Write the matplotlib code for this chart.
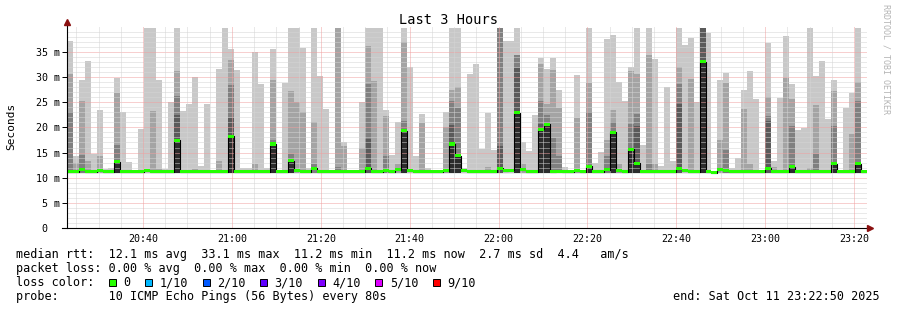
import matplotlib
matplotlib.use('Agg')
import matplotlib.pyplot as plt
import numpy as np
from matplotlib.patches import Rectangle

# median rtt per 80 s step (ms)
median = [11.2, 11.2, 11.6, 11.2, 11.2, 11.5, 11.2, 11.2, 13.2, 11.2,
          11.2, 11.2, 11.2, 11.4, 11.2, 11.2, 11.2, 11.2, 17.4, 11.2,
          11.2, 11.2, 11.2, 11.2, 11.2, 11.2, 11.2, 18.2, 11.2, 11.2,
          11.2, 11.2, 11.2, 11.2, 16.7, 11.2, 11.2, 13.4, 11.5, 11.2,
          11.2, 11.9, 11.2, 11.2, 11.2, 11.2, 11.2, 11.2, 11.2, 11.2,
          11.9, 11.2, 11.2, 11.5, 11.2, 11.6, 19.3, 11.4, 11.2, 11.2,
          11.2, 11.2, 11.2, 11.4, 16.7, 14.4, 11.5, 11.2, 11.2, 11.2,
          11.2, 11.2, 11.9, 11.4, 11.5, 22.9, 11.6, 11.2, 11.2, 19.6,
          20.6, 11.2, 11.3, 11.2, 11.2, 11.4, 11.2, 12.3, 11.2, 11.2,
          11.6, 19.0, 11.4, 11.2, 15.7, 12.9, 11.2, 11.2, 11.2, 11.2,
          11.2, 11.2, 11.8, 11.4, 11.2, 11.2, 33.1, 11.2, 11.0, 11.6,
          11.4, 11.2, 11.2, 11.2, 11.2, 11.2, 11.2, 11.9, 11.2, 11.2,
          11.2, 12.2, 11.2, 11.2, 11.2, 11.2, 11.2, 11.2, 12.8, 11.2,
          11.2, 11.2, 12.8, 11.2]

# smoke band tops, lightest (outer pings) to darkest (inner pings); 0 = none
smoke1 = [37.2, 14.4, 29.5, 33.2, 14.8, 23.4, 11.7, 11.9, 29.9, 23.0,
          13.1, 0, 19.6, 39.8, 39.8, 29.4, 11.7, 25.0, 39.8, 23.2,
          24.6, 30.0, 12.4, 24.6, 11.5, 31.6, 39.8, 35.5, 31.4, 11.9,
          11.9, 35.0, 28.6, 11.9, 35.5, 0, 28.9, 39.8, 39.8, 35.7,
          11.9, 39.8, 30.2, 23.6, 11.5, 39.8, 17.0, 0, 0, 25.1,
          39.8, 39.8, 39.8, 23.4, 14.6, 21.0, 39.8, 32.0, 14.4, 22.6,
          11.9, 0, 11.5, 23.0, 39.8, 39.8, 11.9, 30.6, 32.6, 15.7,
          22.8, 15.5, 39.8, 37.2, 37.2, 39.8, 17.0, 15.3, 22.5, 33.7,
          31.6, 33.7, 27.4, 12.2, 0, 30.4, 0, 39.8, 12.9, 15.1,
          37.6, 38.3, 29.1, 25.3, 32.0, 39.8, 16.6, 39.8, 33.5, 12.4,
          28.0, 13.4, 39.8, 36.4, 37.8, 25.0, 39.8, 38.8, 0, 29.4,
          30.8, 11.9, 14.0, 27.4, 31.3, 25.6, 0, 36.8, 13.4, 25.8,
          38.1, 28.6, 19.4, 19.8, 39.8, 30.2, 33.2, 21.6, 29.4, 0,
          23.8, 26.9, 39.8, 0]
smoke2 = [30.6, 12.9, 25.3, 13.4, 0, 14.3, 0, 0, 26.9, 0,
          0, 0, 0, 0, 23.2, 11.7, 0, 0, 31.3, 0,
          0, 11.7, 0, 0, 0, 13.4, 0, 33.4, 0, 0,
          0, 12.8, 0, 0, 29.4, 0, 0, 27.3, 25.0, 23.0,
          0, 21.0, 0, 0, 0, 39.8, 16.4, 0, 0, 15.9,
          36.2, 29.3, 0, 22.3, 0, 12.7, 37.0, 0, 0, 20.8,
          0, 0, 0, 20.0, 27.4, 28.1, 0, 0, 0, 0,
          12.2, 0, 39.8, 0, 0, 34.4, 12.7, 0, 0, 32.6,
          24.7, 31.4, 23.9, 0, 0, 21.8, 0, 28.9, 0, 0,
          17.5, 23.4, 12.7, 0, 31.2, 30.6, 0, 34.4, 12.7, 0,
          0, 0, 32.0, 0, 29.6, 0, 39.8, 0, 0, 17.4,
          28.8, 0, 0, 23.6, 12.7, 0, 0, 26.1, 12.1, 0,
          29.9, 25.6, 0, 0, 11.9, 24.4, 0, 0, 27.3, 0,
          0, 18.6, 29.1, 0]
smoke3 = [23.0, 0, 14.6, 0, 0, 0, 0, 0, 16.6, 0,
          0, 0, 0, 0, 0, 0, 0, 0, 26.3, 0,
          0, 0, 0, 0, 0, 0, 0, 28.5, 0, 0,
          0, 0, 0, 0, 17.5, 0, 0, 14.7, 0, 0,
          0, 12.8, 0, 0, 0, 12.1, 0, 0, 0, 0,
          28.6, 0, 0, 14.4, 0, 0, 21.3, 0, 0, 0,
          0, 0, 0, 0, 25.3, 23.9, 0, 0, 0, 0,
          0, 0, 39.8, 0, 0, 34.4, 0, 0, 0, 25.3,
          22.5, 17.8, 14.4, 0, 0, 0, 0, 23.0, 0, 0,
          14.4, 21.0, 0, 0, 20.7, 22.7, 0, 12.8, 0, 0,
          0, 0, 28.6, 0, 0, 0, 39.8, 0, 0, 0,
          15.6, 0, 0, 0, 0, 0, 0, 22.3, 0, 0,
          0, 20.3, 0, 0, 0, 14.8, 0, 0, 20.3, 0,
          0, 0, 25.3, 0]
smoke4 = [0, 0, 0, 0, 0, 0, 0, 0, 0, 0,
          0, 0, 0, 0, 0, 0, 0, 0, 22.5, 0,
          0, 0, 0, 0, 0, 0, 0, 21.8, 0, 0,
          0, 0, 0, 0, 0, 0, 0, 0, 0, 0,
          0, 0, 0, 0, 0, 0, 0, 0, 0, 0,
          17.7, 0, 0, 0, 0, 0, 0, 0, 0, 0,
          0, 0, 0, 0, 20.5, 0, 0, 0, 0, 0,
          0, 0, 16.4, 0, 0, 31.9, 0, 0, 0, 20.7,
          0, 0, 0, 0, 0, 0, 0, 0, 0, 0,
          0, 0, 0, 0, 0, 20.3, 0, 0, 0, 0,
          0, 0, 24.6, 0, 0, 0, 39.8, 0, 0, 0,
          0, 0, 0, 0, 0, 0, 0, 21.2, 0, 0,
          0, 0, 0, 0, 0, 0, 0, 0, 13.0, 0,
          0, 0, 12.9, 0]

tick_pos = [40, 60, 80, 100, 120, 140, 160, 180, 200]   # minutes after 20:00
tick_lab = ['20:40', '21:00', '21:20', '21:40', '22:00', '22:20', '22:40', '23:00', '23:20']
ytick_pos = [0, 5, 10, 15, 20, 25, 30, 35]
ytick_lab = ['0  ', '5 m', '10 m', '15 m', '20 m', '25 m', '30 m', '35 m']

loss_labels = ['0', '1/10', '2/10', '3/10', '4/10', '5/10', '9/10']
loss_colors = ['#26ff00', '#00b8ff', '#0059ff', '#5e00ff', '#7e00ff', '#dd00ff', '#ff0000']

W, H = 897, 310
mono = 'DejaVu Sans Mono'
fig = plt.figure(figsize=(W / 100, H / 100), dpi=100)
ax = fig.add_axes([66.7 / W, 82 / H, 800 / W, 201.2 / H])

t0 = 22 + 50 / 60
t1 = t0 + 180
n = len(median)
step = (t1 - t0) / n
left = t0 + step * np.arange(n)
base = 11.0

shades = ['#c8c8c8', '#a4a4a4', '#808080', '#5a5a5a']
for band, col in zip([smoke1, smoke2, smoke3, smoke4], shades):
    top = np.array(band, dtype=float)
    h = np.where(top > base, top - base, 0)
    ax.bar(left, h, width=step, bottom=base, align='edge', color=col,
           linewidth=0, antialiased=False, zorder=1)

med = np.array(median)
inner = np.where(med > 12.0, med - base, 0)
ax.bar(left, inner, width=step, bottom=base, align='edge', color='#2c2c2c',
       linewidth=0, antialiased=False, zorder=2)

# grid
for v in range(1, 40):
    if v % 5:
        ax.axhline(v, color='#d4d4d4', lw=0.72, ls=(0, (1, 1)), zorder=3)
    else:
        ax.axhline(v, color='#f0a0a0', lw=0.72, ls=(0, (1, 1)), zorder=3)
for m in range(25, 205, 5):
    if m % 20:
        ax.axvline(m, color='#d4d4d4', lw=0.72, ls=(0, (1, 1)), zorder=3)
    else:
        ax.axvline(m, color='#f0a0a0', lw=0.72, ls=(0, (1, 1)), zorder=3)

# median line + loss-colour band
edges = np.append(left, t1)
ax.step(edges, np.append(med, med[-1]), where='post', color='black', lw=0.8, zorder=4)
ax.bar(left, 0.6, width=step, bottom=med - 0.3, align='edge', color=loss_colors[0],
       linewidth=0, antialiased=False, zorder=5)

ax.set_xlim(t0, t1)
ax.set_ylim(0, 40)
for s in ax.spines.values():
    s.set_visible(False)
ax.set_xticks(tick_pos)
ax.set_xticklabels(tick_lab, fontfamily=mono, fontsize=7.2)
ax.set_yticks(ytick_pos)
ax.set_yticklabels(ytick_lab, fontfamily=mono, fontsize=7.2)
ax.tick_params(axis='x', length=0, pad=4)
ax.tick_params(axis='y', length=3.5, width=0.7, pad=1.5)
ax.set_facecolor('white')

# axes with arrows
ax.plot([0, 0], [0, 1.02], transform=ax.transAxes, color='black', lw=0.8, clip_on=False, zorder=6)
ax.plot([-0.006, 1.0], [0, 0], transform=ax.transAxes, color='black', lw=0.8, clip_on=False, zorder=6)
ax.plot(0, 1.025, marker='^', ms=4.5, color='#8b1010', mec='#8b1010',
        transform=ax.transAxes, clip_on=False, zorder=7)
ax.plot(1.004, 0, marker='>', ms=4.5, color='#8b1010', mec='#8b1010',
        transform=ax.transAxes, clip_on=False, zorder=7)

fig.text(0.5, 1 - 20 / H, 'Last 3 Hours', ha='center', va='center', fontfamily=mono, fontsize=9.8)
fig.text(11 / W, 1 - 126 / H, 'Seconds', ha='center', va='center', rotation=90,
         fontfamily=mono, fontsize=8)
fig.text(886 / W, 1 - 4 / H, 'RRDTOOL / TOBI OETIKER', ha='center', va='top', rotation=270,
         fontfamily=mono, fontsize=6, color='#b4b4b4')

fs = 8.5
rows = [254.3, 268.3, 282.7, 296.7]
fig.text(16 / W, 1 - rows[0] / H,
         'median rtt:  12.1 ms avg  33.1 ms max  11.2 ms min  11.2 ms now  2.7 ms sd  4.4   am/s',
         ha='left', va='center', fontfamily=mono, fontsize=fs)
fig.text(16 / W, 1 - rows[1] / H,
         'packet loss: 0.00 % avg  0.00 % max  0.00 % min  0.00 % now',
         ha='left', va='center', fontfamily=mono, fontsize=fs)
fig.text(16 / W, 1 - rows[2] / H, 'loss color:', ha='left', va='center', fontfamily=mono, fontsize=fs)
x = 109
for lab, col in zip(loss_labels, loss_colors):
    fig.patches.append(Rectangle((x / W, 1 - (rows[2] + 3.5) / H), 7 / W, 7 / H,
                                 transform=fig.transFigure, facecolor=col,
                                 edgecolor='black', lw=0.7))
    fig.text((x + 14.6) / W, 1 - rows[2] / H, lab, ha='left', va='center',
             fontfamily=mono, fontsize=fs)
    x = x + 14.6 + (len(lab) + 2) * 7.15
fig.text(16 / W, 1 - rows[3] / H,
         'probe:       10 ICMP Echo Pings (56 Bytes) every 80s',
         ha='left', va='center', fontfamily=mono, fontsize=fs)
fig.text(880 / W, 1 - rows[3] / H, 'end: Sat Oct 11 23:22:50 2025',
         ha='right', va='center', fontfamily=mono, fontsize=fs)

fig.savefig('out.png', dpi=100, facecolor='white')
